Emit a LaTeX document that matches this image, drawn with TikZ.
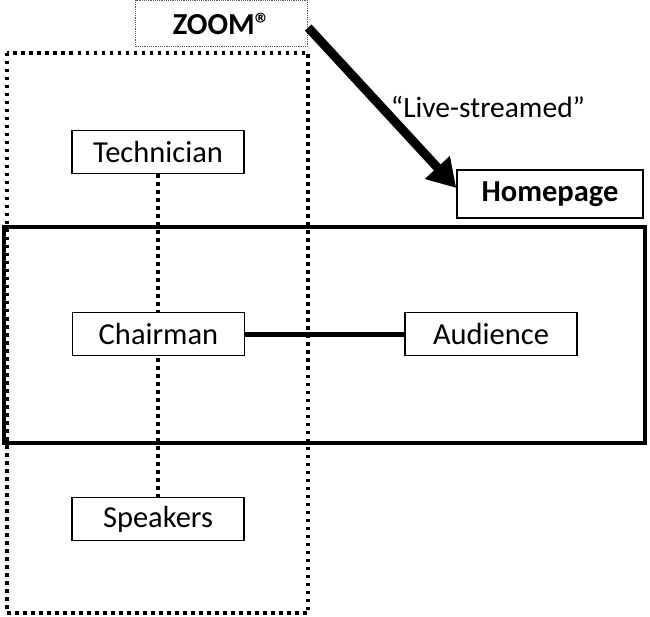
\documentclass[tikz,border=0pt]{standalone}
\usepackage{fontspec}
\setmainfont{Carlito}
\usetikzlibrary{arrows.meta,backgrounds}
\begin{document}
\begin{tikzpicture}[x=1pt,y=-1pt,
  txt/.style={font=\fontsize{30.5}{34}\selectfont},
  role/.style={txt,draw,line width=1.4pt,fill=white,minimum width=172pt,minimum height=43pt,inner sep=0pt},
  bigdots/.style={line width=4pt,dash pattern=on 3.5pt off 4.5pt},
  vdots/.style={line width=3.5pt,dash pattern=on 4pt off 4pt},
  thickframe/.style={line width=4pt}]
\useasboundingbox (0,0) rectangle (650,617);
% frames
\draw[bigdots] (7,53) rectangle (308,613);
\draw[thickframe] (4,227) rectangle (645,443);
% nodes
\node[draw=gray!70!black,line width=1.3pt,dash pattern=on 1.2pt off 1pt,fill=white,minimum width=172pt,minimum height=46pt,inner sep=0pt,font=\fontsize{30.5}{34}\selectfont\bfseries] (zoom) at (221.5,23.5) {ZOOM®};
\node[role] (tech) at (158,152) {Technician};
\node[role] (chair) at (158.5,334) {Chairman};
\node[role] (aud) at (491,334) {Audience};
\node[role] (spk) at (158,519) {Speakers};
\node[role,minimum width=186pt,minimum height=48pt,font=\fontsize{30.5}{34}\selectfont\bfseries] (home) at (550,194) {Homepage};
\node[font=\fontsize{29.5}{33}\selectfont] (lbl) at (488,107) {“Live-streamed”};
% connectors
\begin{scope}[on background layer]
\draw[vdots] (tech.south) -- (spk.north);
\end{scope}
\draw[line width=5pt] (chair.east) -- (aud.west);
\draw[line width=9pt,-{Triangle[length=28pt,width=32pt]}] ([yshift=-4pt]zoom.east) -- ([yshift=6pt]home.west);
\end{tikzpicture}
\end{document}
